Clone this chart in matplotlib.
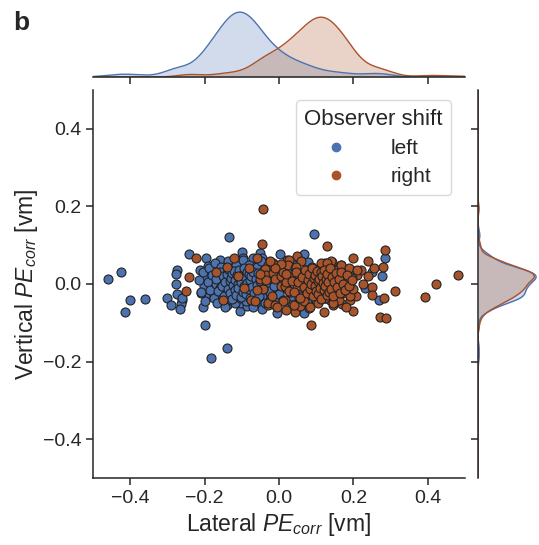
import numpy as np
import matplotlib
matplotlib.use("Agg")
import matplotlib.pyplot as plt
from matplotlib.lines import Line2D

# -------------------------
# Data
# -------------------------
left_x = [
    -0.459, -0.426, -0.400, -0.413, -0.360, -0.300, -0.290, -0.274, -0.277, -0.277,
    -0.275, -0.262, -0.263, -0.265, -0.242, -0.204, -0.200, -0.135, -0.139, -0.184,
    -0.211, -0.195, -0.190, -0.200, -0.201, -0.209, -0.189, -0.174, -0.158, -0.179,
    -0.159, -0.151, -0.164, -0.141, -0.149, -0.139, -0.119, -0.121, -0.123, -0.126,
    -0.105, -0.103, -0.099, -0.096, -0.099, -0.092, -0.083, -0.087, -0.068, -0.070,
    -0.051, -0.047, -0.047, -0.056, -0.005, 0.003, 0.011, -0.003, -0.012, -0.016,
    0.095, 0.067, 0.078, 0.040, 0.194, 0.154, 0.064, 0.051, 0.038, 0.029,
    0.067, 0.284, 0.277, -0.262, -0.047,
    -0.215, -0.210, -0.205, -0.198, -0.192, -0.188, -0.185, -0.180, -0.176, -0.172,
    -0.170, -0.166, -0.162, -0.158, -0.155, -0.152, -0.148, -0.145, -0.142, -0.138,
    -0.135, -0.132, -0.130, -0.127, -0.124, -0.120, -0.118, -0.115, -0.112, -0.110,
    -0.107, -0.104, -0.101, -0.098, -0.096, -0.093, -0.090, -0.088, -0.085, -0.082,
    -0.080, -0.077, -0.074, -0.071, -0.068, -0.066, -0.063, -0.060, -0.057, -0.054,
    -0.051, -0.048, -0.045, -0.042, -0.040, -0.037, -0.034, -0.031, -0.028, -0.025,
    -0.022, -0.019, -0.016, -0.013, -0.010, -0.007, -0.004, 0.000, 0.004, 0.008,
    0.012, 0.016, 0.022, 0.028, 0.034, 0.045, 0.055, 0.062, 0.075, 0.088,
    0.100, 0.115, 0.125, 0.140, 0.160, 0.175, 0.230, 0.250, 0.270,
    # hidden core of the cloud
    -0.168, -0.163, -0.158, -0.154, -0.150, -0.147, -0.144, -0.141, -0.138, -0.136,
    -0.133, -0.131, -0.129, -0.127, -0.125, -0.123, -0.121, -0.119, -0.117, -0.115,
    -0.113, -0.111, -0.109, -0.107, -0.105, -0.103, -0.101, -0.099, -0.097, -0.095,
    -0.093, -0.091, -0.089, -0.087, -0.085, -0.083, -0.081, -0.079, -0.077, -0.075,
    -0.072, -0.069, -0.066, -0.063, -0.060, -0.057, -0.054, -0.050, -0.046, -0.042,
]
left_y = [
    0.012, 0.030, -0.040, -0.071, -0.038, -0.036, -0.055, 0.035, 0.026, -0.001,
    -0.026, -0.040, -0.052, -0.064, 0.078, -0.060, -0.105, 0.121, -0.165, -0.190,
    0.037, 0.066, 0.046, 0.018, -0.004, -0.024, -0.031, -0.031, 0.061, 0.017,
    0.034, 0.018, -0.006, -0.001, -0.048, -0.053, 0.037, 0.022, 0.000, -0.031,
    -0.070, -0.048, 0.082, 0.066, 0.048, 0.020, -0.006, -0.057, 0.048, 0.067,
    0.080, 0.067, -0.057, -0.014, -0.074, 0.078, 0.048, 0.046, -0.014, -0.031,
    0.130, 0.078, 0.056, 0.048, 0.036, 0.003, 0.005, -0.011, -0.027, -0.044,
    -0.074, 0.067, 0.020, -0.036, -0.064,
    0.010, -0.020, 0.030, -0.045, 0.005, 0.040, -0.015, 0.022, -0.035, 0.055,
    0.000, -0.050, 0.015, -0.010, 0.045, -0.028, 0.030, -0.058, 0.008, 0.058,
    -0.018, 0.025, -0.040, 0.040, -0.005, 0.012, -0.050, 0.050, -0.022, 0.030,
    0.002, -0.035, 0.020, 0.062, -0.012, 0.038, -0.045, 0.008, 0.025, -0.028,
    0.050, -0.005, 0.015, -0.060, 0.035, -0.020, 0.005, 0.045, -0.038, 0.022,
    -0.008, 0.058, -0.030, 0.010, 0.035, -0.048, 0.000, 0.025, -0.018, 0.042,
    -0.035, 0.012, 0.055, -0.005, 0.030, -0.045, 0.018, -0.025, 0.040, 0.000,
    -0.040, 0.020, -0.012, 0.032, -0.030, 0.010, -0.020, 0.025, -0.045, 0.015,
    -0.015, 0.030, -0.035, 0.010, -0.025, 0.020, -0.010, 0.030, -0.040,
    0.012, -0.018, 0.030, -0.005, 0.020, -0.032, 0.004, 0.026, -0.012, 0.038,
    -0.024, 0.008, 0.016, -0.038, 0.028, -0.002, 0.034, -0.016, 0.010, -0.028,
    0.022, 0.000, -0.010, 0.036, 0.014, -0.034, 0.006, 0.024, -0.020, 0.040,
    -0.006, 0.018, -0.026, 0.030, 0.002, -0.014, 0.026, -0.036, 0.010, 0.020,
    -0.008, 0.032, -0.022, 0.014, -0.002, 0.028, -0.030, 0.008, 0.018, -0.012,
]

right_x = [
    -0.043, -0.047, -0.224, -0.242, -0.250, -0.121, -0.059, -0.030, -0.038, -0.052,
    -0.034, -0.016, -0.043, -0.030, -0.076, -0.150, -0.012, 0.006, 0.015, 0.022,
    0.128, 0.284, 0.200, 0.239, 0.255, 0.279, 0.209, 0.239, 0.226, 0.251,
    0.311, 0.282, 0.392, 0.423, 0.481, 0.271, 0.287, 0.199, 0.169, 0.190,
    0.208, 0.085, 0.121, 0.136, 0.042, 0.056, 0.082, 0.100, 0.154, 0.176,
    0.185, 0.167, 0.143, 0.123, 0.105, 0.087, 0.049, 0.026, -0.012, 0.105,
    0.123, 0.150, 0.078, 0.114, 0.015, 0.006, 0.024, 0.060, 0.069, -0.030,
    -0.012, 0.020, 0.140, 0.221,
    0.010, 0.015, 0.020, 0.025, 0.030, 0.035, 0.040, 0.044, 0.048, 0.052,
    0.056, 0.060, 0.064, 0.068, 0.072, 0.076, 0.080, 0.084, 0.088, 0.092,
    0.096, 0.100, 0.104, 0.108, 0.112, 0.116, 0.120, 0.124, 0.128, 0.132,
    0.136, 0.140, 0.144, 0.148, 0.152, 0.156, 0.160, 0.164, 0.168, 0.172,
    0.176, 0.180, 0.184, 0.188, 0.192, 0.196, 0.200, 0.005, 0.012, 0.018,
    0.028, 0.034, 0.045, 0.055, 0.065, 0.075, 0.090, 0.100, 0.130, 0.145,
    0.160, 0.175, 0.210, 0.250,
    -0.010, -0.020, -0.035, -0.050, -0.065, -0.080, -0.095, -0.110, -0.060, -0.025,
    -0.005, -0.140, -0.170,
    # hidden core of the cloud
    0.040, 0.046, 0.052, 0.057, 0.062, 0.066, 0.070, 0.074, 0.077, 0.080,
    0.083, 0.086, 0.089, 0.092, 0.094, 0.096, 0.098, 0.100, 0.102, 0.104,
    0.106, 0.108, 0.110, 0.112, 0.114, 0.116, 0.118, 0.120, 0.122, 0.124,
    0.126, 0.128, 0.130, 0.132, 0.134, 0.137, 0.140, 0.143, 0.146, 0.149,
    0.152, 0.156, 0.160, 0.164, 0.168, 0.172, 0.177, 0.182, 0.188, 0.195,
]
right_y = [
    0.194, 0.103, 0.066, 0.018, -0.018, 0.066, 0.066, 0.050, 0.039, 0.012,
    0.022, 0.029, -0.014, -0.053, -0.040, -0.040, 0.012, -0.006, 0.012, 0.063,
    0.097, 0.088, 0.066, 0.058, 0.040, 0.044, 0.022, 0.020, -0.001, -0.009,
    -0.018, -0.035, -0.033, 0.000, 0.024, -0.084, -0.087, -0.070, -0.051, -0.040,
    -0.030, -0.106, -0.072, -0.040, -0.072, -0.057, -0.061, -0.040, -0.023, -0.006,
    0.013, 0.048, 0.056, 0.053, 0.037, 0.033, 0.072, 0.063, 0.050, 0.012,
    0.024, 0.029, -0.006, -0.010, -0.006, 0.020, 0.012, 0.029, -0.031, -0.048,
    -0.053, -0.066, 0.003, 0.037,
    0.030, -0.040, 0.005, 0.050, -0.020, 0.018, -0.055, 0.040, -0.005, 0.025,
    -0.030, 0.060, 0.010, -0.045, 0.035, -0.015, 0.020, -0.060, 0.045, 0.000,
    -0.025, 0.030, -0.050, 0.012, 0.055, -0.010, 0.025, -0.035, 0.040, 0.005,
    -0.020, 0.060, -0.055, 0.018, -0.008, 0.035, -0.040, 0.010, 0.048, -0.022,
    0.028, -0.060, 0.002, 0.040, -0.030, 0.015, -0.012, 0.052, -0.045, 0.025,
    -0.018, 0.008, 0.045, -0.035, 0.000, 0.030, -0.022, 0.012, 0.055, -0.050,
    0.020, -0.008, 0.035, -0.028,
    0.040, -0.030, 0.010, 0.025, -0.045, 0.040, -0.010, 0.020, -0.015, 0.060,
    -0.060, 0.045, 0.030,
    -0.020, 0.030, 0.004, -0.036, 0.018, -0.008, 0.036, -0.024, 0.010, 0.026,
    -0.014, 0.000, 0.040, -0.030, 0.016, -0.004, 0.024, -0.018, 0.034, 0.008,
    -0.026, 0.012, -0.010, 0.030, -0.038, 0.020, 0.002, -0.016, 0.036, -0.006,
    0.014, -0.028, 0.026, 0.006, -0.020, 0.040, -0.012, 0.018, -0.032, 0.004,
    0.028, -0.008, 0.012, -0.024, 0.032, 0.000, -0.016, 0.022, -0.004, 0.010,
]

groups = ["left", "right"]
colors = {"left": "#4C72B0", "right": "#A9532B"}
x_ticks = [-0.4, -0.2, 0.0, 0.2, 0.4]
y_ticks = [-0.4, -0.2, 0.0, 0.2, 0.4]

# -------------------------
# Style
# -------------------------
plt.rcParams['font.family'] = ['Liberation Sans', 'DejaVu Sans']
plt.rcParams['mathtext.fontset'] = 'custom'
plt.rcParams['mathtext.rm'] = 'Liberation Sans'
plt.rcParams['mathtext.it'] = 'Liberation Sans:italic'
plt.rcParams['text.color'] = '#262626'
plt.rcParams['axes.labelcolor'] = '#262626'
plt.rcParams['xtick.color'] = '#262626'
plt.rcParams['ytick.color'] = '#262626'
plt.rcParams['axes.edgecolor'] = '#262626'
plt.rcParams['axes.linewidth'] = 1.1


def kde(vals, grid, bw_adjust=0.85):
    vals = np.asarray(vals)
    n = len(vals)
    bw = np.std(vals, ddof=1) * n ** (-0.2) * bw_adjust
    z = (grid[:, None] - vals[None, :]) / bw
    return np.exp(-0.5 * z ** 2).sum(axis=1) / (n * bw * np.sqrt(2 * np.pi))


fig = plt.figure(figsize=(5.39, 5.45), dpi=100)
ax = fig.add_axes([0.1725, 0.1229, 0.6902, 0.712])
ax_top = fig.add_axes([0.1725, 0.8587, 0.6902, 0.125], sharex=ax)
ax_right = fig.add_axes([0.887, 0.1229, 0.113, 0.712], sharey=ax)

data = {"left": (left_x, left_y), "right": (right_x, right_y)}
n_total = len(left_x) + len(right_x)

# scatter
for g in groups:
    gx, gy = data[g]
    ax.scatter(gx, gy, s=42, color=colors[g], edgecolor='#222222', linewidth=0.8, zorder=3)

ax.set_xlim(-0.5, 0.5)
ax.set_ylim(-0.5, 0.5)
ax.set_xticks(x_ticks)
ax.set_yticks(y_ticks)
ax.tick_params(labelsize=14, length=5, width=1.1)
ax.spines['top'].set_visible(False)
ax.spines['right'].set_visible(False)
ax.set_xlabel("Lateral $PE_{corr}$ [vm]", fontsize=16.5, labelpad=3)
ax.set_ylabel("Vertical $PE_{corr}$ [vm]", fontsize=16.5, labelpad=2)

handles = [Line2D([], [], marker='o', ls='', color=colors[g], markersize=6, label=g) for g in groups]
leg = ax.legend(handles=handles, title="Observer shift", loc='upper right', fontsize=15,
                title_fontsize=16, frameon=True, handletextpad=1.6, borderpad=0.4,
                labelspacing=0.45, bbox_to_anchor=(0.99, 1.0))
leg.get_frame().set_edgecolor('#d0d0d0')
leg.get_frame().set_linewidth(1.0)

# marginal KDEs
gx_grid = np.linspace(-0.5, 0.5, 400)
gy_grid = np.linspace(-0.5, 0.5, 400)
for g in groups:
    gx, gy = data[g]
    w = len(gx) / n_total
    dx = kde(gx, gx_grid) * w
    dy = kde(gy, gy_grid) * w
    ax_top.fill_between(gx_grid, 0, dx, color=colors[g], alpha=0.25, linewidth=0)
    ax_top.plot(gx_grid, dx, color=colors[g], linewidth=1.0)
    ax_right.fill_betweenx(gy_grid, 0, dy, color=colors[g], alpha=0.25, linewidth=0)
    ax_right.plot(dy, gy_grid, color=colors[g], linewidth=1.0)

ax_top.set_ylim(bottom=0)
ax_right.set_xlim(left=0)
for s in ['top', 'right', 'left']:
    ax_top.spines[s].set_visible(False)
for s in ['top', 'right', 'bottom']:
    ax_right.spines[s].set_visible(False)
ax_top.tick_params(axis='x', labelbottom=False, length=5, width=1.1)
ax_top.tick_params(axis='y', left=False, labelleft=False)
ax_right.tick_params(axis='y', labelleft=False, length=5, width=1.1)
ax_right.tick_params(axis='x', bottom=False, labelbottom=False)

fig.text(0.024, 0.958, "b", fontsize=19, fontweight='bold', ha='left', va='center')

fig.savefig("out.png", dpi=100)
